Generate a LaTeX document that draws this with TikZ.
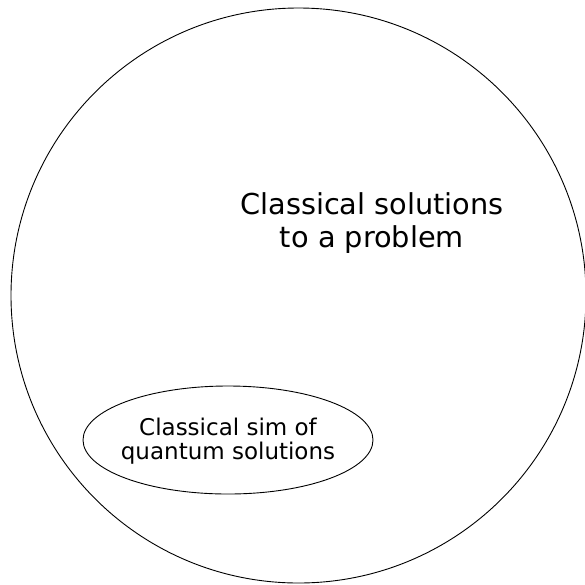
\documentclass[tikz,border=0pt]{standalone}
\usepackage{fontspec}
\setmainfont{DejaVu Sans}
\usetikzlibrary{shapes.geometric}
\begin{document}
\begin{tikzpicture}[x=1pt,y=-1pt,
  outline/.style={draw=black,line width=0.9pt},
  bigtext/.style={align=center,font=\fontsize{28.8}{33}\selectfont},
  smalltext/.style={align=center,font=\fontsize{23}{23.5}\selectfont}]
\useasboundingbox (0,0) rectangle (585,584);
\node[outline,circle,minimum size=575pt,inner sep=0pt] (big) at (298.5,295.5) {};
\node[outline,ellipse,minimum width=290pt,minimum height=108pt,inner sep=0pt] (small) at (228,440) {};
\node[bigtext] (bigl) at (372,223) {Classical solutions\\to a problem};
\node[smalltext] (smalll) at (228,441) {Classical sim of\\quantum solutions};
\end{tikzpicture}
\end{document}
